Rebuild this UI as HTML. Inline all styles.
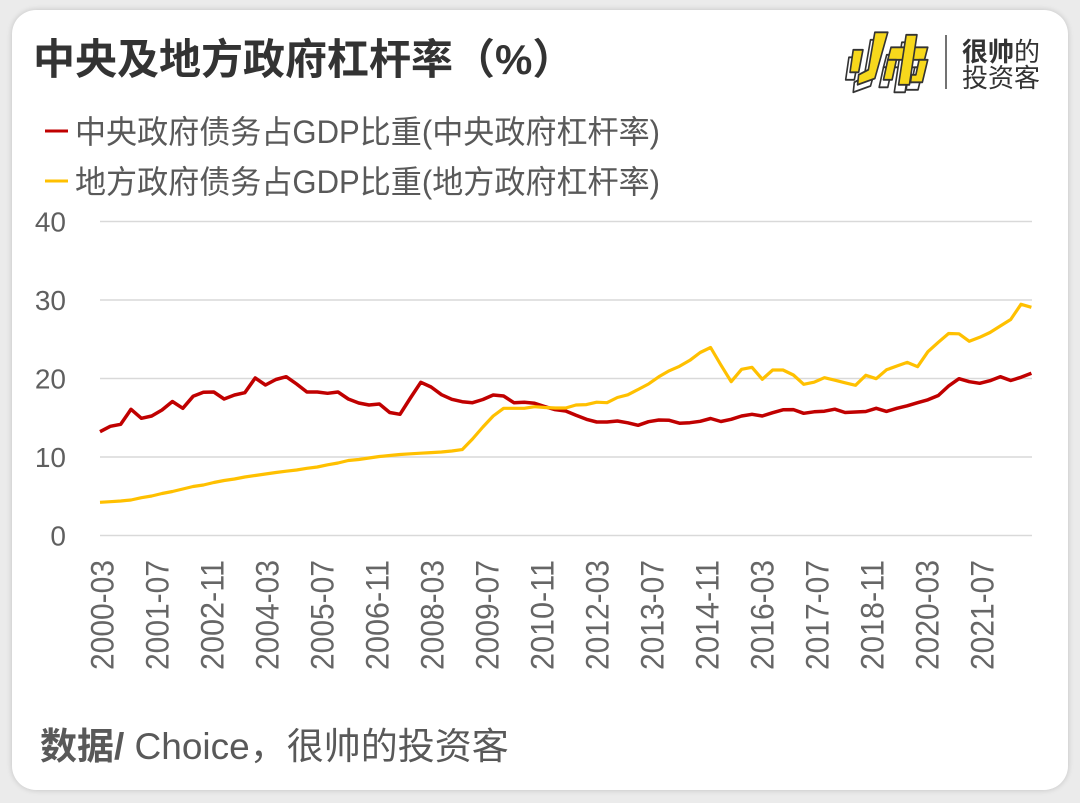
<!DOCTYPE html>
<html>
<head>
<meta charset="utf-8">
<style>
  html,body{margin:0;padding:0;}
  body{width:1080px;height:803px;background:#ebebeb;position:relative;overflow:hidden;}
  .card{position:absolute;left:12px;top:10px;width:1056px;height:780px;background:#fff;border-radius:24px;box-shadow:0 0 6px rgba(0,0,0,0.18);}
  svg{position:absolute;left:0;top:0;}
  text{font-family:"Liberation Sans","Noto Sans CJK SC",sans-serif;}
</style>
</head>
<body>
<div class="card"></div>
<svg width="1080" height="803" viewBox="0 0 1080 803" xmlns="http://www.w3.org/2000/svg">
  <!-- Title -->
  <text x="33" y="74" font-size="42" font-weight="bold" fill="#333333">中央及地方政府杠杆率（%）</text>

  <!-- Logo -->
  <g transform="matrix(1.08,0,0,1.25,-68,-9)">
  <g stroke="#333" stroke-width="1.5" stroke-linejoin="round">
    <g transform="translate(-4,6)" fill="#fff">
      <polygon points="853,47 862,47 858,65 850,65"/>
      <polygon points="873,33 885,33 873,70 857,75 858,67 867,63"/>
      <polygon points="888,45 922,45 919,55 885,55"/>
      <polygon points="902,35 912,35 905,75 895,75"/>
      <polygon points="885,55 893,55 889,71 881,71"/>
      <polygon points="914,55 922,55 917,73 906,73 907,67 911,67"/>
    </g>
    <g fill="#f7d81c">
      <polygon points="853,47 862,47 858,65 850,65"/>
      <polygon points="873,33 885,33 873,70 857,75 858,67 867,63"/>
      <polygon points="888,45 922,45 919,55 885,55"/>
      <polygon points="902,35 912,35 905,75 895,75"/>
      <polygon points="885,55 893,55 889,71 881,71"/>
      <polygon points="914,55 922,55 917,73 906,73 907,67 911,67"/>
    </g>
  </g>
  </g>
  <line x1="946" y1="35" x2="946" y2="89" stroke="#444" stroke-width="1.5"/>
  <text x="962" y="61" font-size="26" fill="#333"><tspan font-weight="bold">很帅</tspan>的</text>
  <text x="962" y="87" font-size="26" fill="#333">投资客</text>

  <!-- Legend -->
  <line x1="45" y1="131" x2="68" y2="131" stroke="#c00000" stroke-width="3"/>
  <text x="75" y="143" font-size="32" fill="#595959" textLength="585" lengthAdjust="spacingAndGlyphs">中央政府债务占GDP比重(中央政府杠杆率)</text>
  <line x1="45" y1="181" x2="68" y2="181" stroke="#ffc000" stroke-width="3"/>
  <text x="75" y="193" font-size="32" fill="#595959" textLength="585" lengthAdjust="spacingAndGlyphs">地方政府债务占GDP比重(地方政府杠杆率)</text>

  <!-- Gridlines -->
  <g stroke="#d9d9d9" stroke-width="1.5">
    <line x1="100" y1="221.5" x2="1032" y2="221.5"/>
    <line x1="100" y1="300" x2="1032" y2="300"/>
    <line x1="100" y1="378.5" x2="1032" y2="378.5"/>
    <line x1="100" y1="457" x2="1032" y2="457"/>
    <line x1="100" y1="535.5" x2="1032" y2="535.5"/>
  </g>

  <!-- Y labels -->
  <g font-size="28" fill="#5f5f5f" text-anchor="end">
    <text x="66" y="231.5">40</text>
    <text x="66" y="310">30</text>
    <text x="66" y="388.5">20</text>
    <text x="66" y="467">10</text>
    <text x="66" y="545.5">0</text>
  </g>

  <!-- Series -->
  <polyline fill="none" stroke="#c00000" stroke-width="3.5" stroke-linejoin="round" points="100,431.7 110.3,426.3 120.7,424.3 131,409.3 141.4,418.3 151.7,416 162,410 172.4,401.5 182.8,408.3 193.1,396.3 203.4,392.3 213.8,392 224.1,399 234.5,395 244.8,392.7 255.2,378 265.5,385 275.9,379.5 286.2,376.7 296.6,384 306.9,392 317.3,392 327.6,393.3 338,392 348.3,399 358.7,403 369,405 379.4,404 389.7,412.5 400,414.3 410.4,398 420.8,382.3 431.1,387 441.5,394.7 451.8,399.3 462.2,401.7 472.5,402.7 482.9,399.5 493.2,395 503.6,396 513.9,402.7 524.3,402.3 534.6,403.3 545,406.7 555.3,409.7 565.7,411 576,415.3 586.4,419.3 596.7,422 607,422 617.4,421 627.8,422.8 638.1,425.3 648.5,421.7 658.8,420 669.2,420.3 679.5,423.2 689.9,422.7 700.2,421.3 710.6,418.5 720.9,421.5 731.2,419.3 741.6,416 752,414.3 762.3,416 772.7,412.7 783,409.8 793.4,409.6 803.7,413.3 814.1,411.8 824.4,411.2 834.8,409.2 845.1,412.5 855.5,412 865.8,411.5 876.2,408.3 886.5,411.4 896.9,408.3 907.2,405.8 917.6,402.7 927.9,399.8 938.3,395.5 948.6,386 959,378.7 969.3,381.7 979.7,383.3 990,380.7 1000.3,376.7 1010.7,380.5 1021,377.3 1031.4,373.3"/>
  <polyline fill="none" stroke="#ffc000" stroke-width="3.2" stroke-linejoin="round" points="100,502.3 110.3,501.7 120.7,501 131,500 141.4,497.7 151.7,496 162,493.5 172.4,491.5 182.8,489 193.1,486.5 203.4,485 213.8,482.5 224.1,480.5 234.5,479 244.8,477 255.2,475.5 265.5,474 275.9,472.5 286.2,471.2 296.6,470 306.9,468.3 317.3,467 327.6,464.8 338,463 348.3,460.5 358.7,459.5 369,458 379.4,456.5 389.7,455.5 400,454.5 410.4,453.8 420.8,453.2 431.1,452.6 441.5,452 451.8,451 462.2,449.6 472.5,439 482.9,427 493.2,416 503.6,408.3 513.9,408.3 524.3,408.3 534.6,406.7 545,407.5 555.3,408 565.7,408 576,405 586.4,404.6 596.7,402.2 607,402.7 617.4,397.5 627.8,394.8 638.1,389.5 648.5,384 658.8,376.8 669.2,370.8 679.5,366.3 689.9,360.3 700.2,352.5 710.6,347.5 720.9,365 731.2,381.7 741.6,369.3 752,367.3 762.3,379.3 772.7,370 783,370 793.4,375 803.7,384.3 814.1,382.2 824.4,377.7 834.8,380.2 845.1,382.8 855.5,385.3 865.8,375.3 876.2,378.7 886.5,369.8 896.9,366 907.2,362.4 917.6,366.7 927.9,351.7 938.3,342.3 948.6,333.5 959,333.8 969.3,341.3 979.7,337.3 990,332.5 1000.3,326 1010.7,319.5 1021,304.3 1031.4,307.3"/>

  <!-- X labels -->
  <g font-size="32" fill="#666666" text-anchor="end">
    <text transform="translate(113.7,560) rotate(-90)" textLength="110" lengthAdjust="spacingAndGlyphs">2000-03</text>
    <text transform="translate(168.7,560) rotate(-90)" textLength="110" lengthAdjust="spacingAndGlyphs">2001-07</text>
    <text transform="translate(223.7,560) rotate(-90)" textLength="110" lengthAdjust="spacingAndGlyphs">2002-11</text>
    <text transform="translate(278.7,560) rotate(-90)" textLength="110" lengthAdjust="spacingAndGlyphs">2004-03</text>
    <text transform="translate(333.7,560) rotate(-90)" textLength="110" lengthAdjust="spacingAndGlyphs">2005-07</text>
    <text transform="translate(388.7,560) rotate(-90)" textLength="110" lengthAdjust="spacingAndGlyphs">2006-11</text>
    <text transform="translate(443.7,560) rotate(-90)" textLength="110" lengthAdjust="spacingAndGlyphs">2008-03</text>
    <text transform="translate(498.7,560) rotate(-90)" textLength="110" lengthAdjust="spacingAndGlyphs">2009-07</text>
    <text transform="translate(553.7,560) rotate(-90)" textLength="110" lengthAdjust="spacingAndGlyphs">2010-11</text>
    <text transform="translate(608.7,560) rotate(-90)" textLength="110" lengthAdjust="spacingAndGlyphs">2012-03</text>
    <text transform="translate(663.7,560) rotate(-90)" textLength="110" lengthAdjust="spacingAndGlyphs">2013-07</text>
    <text transform="translate(718.7,560) rotate(-90)" textLength="110" lengthAdjust="spacingAndGlyphs">2014-11</text>
    <text transform="translate(773.7,560) rotate(-90)" textLength="110" lengthAdjust="spacingAndGlyphs">2016-03</text>
    <text transform="translate(828.7,560) rotate(-90)" textLength="110" lengthAdjust="spacingAndGlyphs">2017-07</text>
    <text transform="translate(883.7,560) rotate(-90)" textLength="110" lengthAdjust="spacingAndGlyphs">2018-11</text>
    <text transform="translate(938.7,560) rotate(-90)" textLength="110" lengthAdjust="spacingAndGlyphs">2020-03</text>
    <text transform="translate(993.7,560) rotate(-90)" textLength="110" lengthAdjust="spacingAndGlyphs">2021-07</text>
  </g>

  <!-- Footer -->
  <text x="40" y="759" font-size="37" fill="#595959"><tspan font-weight="bold">数据/</tspan> Choice，很帅的投资客</text>
</svg>
</body>
</html>
